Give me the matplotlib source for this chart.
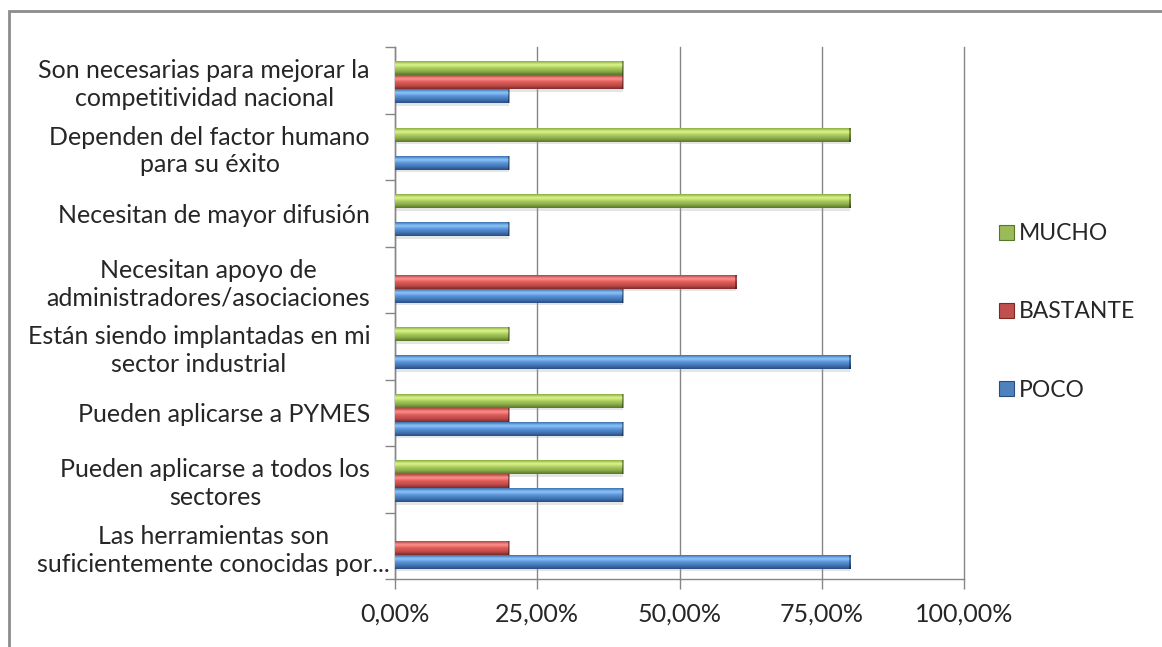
import numpy as np
import matplotlib
matplotlib.use('Agg')
import matplotlib.pyplot as plt
import matplotlib.transforms as mtransforms
from matplotlib.colors import LinearSegmentedColormap
from matplotlib.patches import Patch, Rectangle

# Data (top to bottom as shown in the chart)
categories = ['Son necesarias para mejorar la\ncompetitividad nacional',
              'Dependen del factor humano\npara su éxito',
              'Necesitan de mayor difusión',
              'Necesitan apoyo de\nadministradores/asociaciones',
              'Están siendo implantadas en mi\nsector industrial',
              'Pueden aplicarse a PYMES',
              'Pueden aplicarse a todos los\nsectores',
              'Las herramientas son\nsuficientemente conocidas por...']
poco     = [0.2, 0.2, 0.2, 0.4, 0.8, 0.4, 0.4, 0.8]
bastante = [0.4, 0.0, 0.0, 0.6, 0.0, 0.2, 0.2, 0.2]
mucho    = [0.4, 0.8, 0.8, 0.0, 0.2, 0.4, 0.4, 0.0]
series_names = ['POCO', 'BASTANTE', 'MUCHO']
xticks = [0, 0.25, 0.5, 0.75, 1.0]
xtick_labels = ['0,00%', '25,00%', '50,00%', '75,00%', '100,00%']

# gradient stops (top -> bottom) for the 3D look
grad = {
    'POCO':     ['#3a6eb0', '#8fc8fb', '#5892d6', '#4275b6', '#274c80'],
    'BASTANTE': ['#b04240', '#ff9390', '#de5955', '#bd4d4a', '#7e2826'],
    'MUCHO':    ['#86ab3e', '#e0f78e', '#a9cc5c', '#8aab48', '#587426'],
}
base_col = {'POCO': '#4f81bd', 'BASTANTE': '#c0504d', 'MUCHO': '#9bbb59'}

plt.rcParams['font.family'] = ['Lato', 'DejaVu Sans']

fig = plt.figure(figsize=(11.62, 6.47), dpi=100)
ax = fig.add_axes([395/1162, 1-579/647, (964-395)/1162, (579-47)/647])

n = len(categories)
ypos = np.arange(n)[::-1]          # first category at the top
bar_h = 0.21
shift = -0.03
offsets = {'POCO': -bar_h + shift, 'BASTANTE': shift, 'MUCHO': bar_h + shift}
values = {'POCO': poco, 'BASTANTE': bastante, 'MUCHO': mucho}

for name in series_names:
    vals = np.array(values[name])
    y = ypos + offsets[name]
    # soft shadow
    ax.barh(y - 0.035, vals, height=bar_h, color='#9a9a9a', alpha=0.25,
            linewidth=0, zorder=2)
    bars = ax.barh(y, vals, height=bar_h, color=base_col[name],
                   linewidth=0, zorder=3)
    cmap = LinearSegmentedColormap.from_list(name, grad[name][::-1])
    col = np.linspace(0, 1, 64).reshape(-1, 1)
    for rect, v in zip(bars.patches, vals):
        if v <= 0:
            rect.set_visible(False)
            continue
        x0, yb = rect.get_x(), rect.get_y()
        w, h = rect.get_width(), rect.get_height()
        im = ax.imshow(col, cmap=cmap, aspect='auto', origin='lower',
                       extent=(x0, x0 + w, yb, yb + h), zorder=4,
                       interpolation='bicubic')
        im.set_clip_path(rect)
        # darker bevel at the end of the bar
        ax.plot([x0 + w, x0 + w], [yb, yb + h], color='#00000060',
                linewidth=1.4, zorder=5, solid_capstyle='butt')

ax.set_xlim(0, 1.0)
ax.set_ylim(-0.5, n - 0.5)
ax.set_xticks(xticks)
ax.set_xticklabels(xtick_labels, fontsize=18, color='#262626')
ax.set_yticks(ypos)
ax.set_yticklabels(categories, fontsize=18, color='#262626',
                   multialignment='center', linespacing=1.25)
ax.set_yticks(np.arange(-0.5, n, 1.0), minor=True)
ax.tick_params(axis='y', which='major', length=0, pad=18)
ax.tick_params(axis='y', which='minor', length=7, color='#868686', width=1)
ax.tick_params(axis='x', length=7, color='#868686', width=1, pad=10)

# truncated last label runs closer to the axis, as in the original
last = ax.get_yticklabels()[-1]
last.set_transform(last.get_transform() +
                   mtransforms.ScaledTranslation(20/100, 0, fig.dpi_scale_trans))

ax.grid(axis='x', color='#868686', linewidth=1, zorder=0)
for gl in ax.get_xgridlines():
    gl.set_clip_on(False)
ax.set_axisbelow(True)
for s in ['top', 'right']:
    ax.spines[s].set_visible(False)
for s in ['left', 'bottom']:
    ax.spines[s].set_color('#868686')
    ax.spines[s].set_linewidth(1)

handles = [Patch(facecolor=base_col[s], edgecolor=grad[s][-1], linewidth=0.8)
           for s in series_names[::-1]]
fig.legend(handles, series_names[::-1], loc='center left',
           bbox_to_anchor=(999/1162, 1-312/647), frameon=False,
           fontsize=16.5, handlelength=0.65, handleheight=0.65,
           handletextpad=0.2, labelspacing=2.5, borderpad=0,
           borderaxespad=0, labelcolor='#262626')

# outer chart border
fig.patches.append(Rectangle((9/1162, -0.2), 1.2, 1 - 11/647 + 0.2,
                             transform=fig.transFigure, fill=False,
                             edgecolor='#8c8c8c', linewidth=2))

fig.savefig('out.png', dpi=100)
